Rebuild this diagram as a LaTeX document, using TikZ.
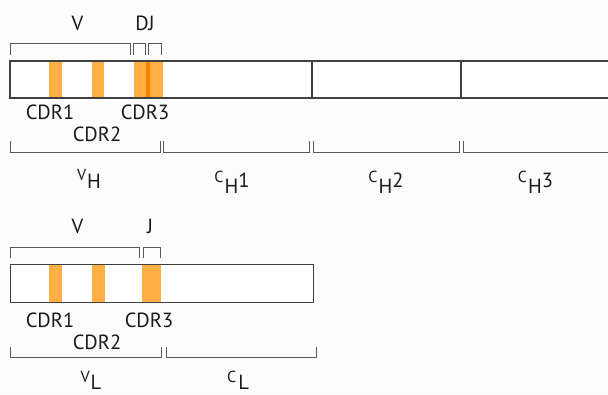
\documentclass[tikz,border=0pt]{standalone}
\usepackage{fontspec}
\setmainfont{PT Sans}
\newcommand{\smallcap}[1]{{\fontsize{16}{18}\selectfont #1}}
\newcommand{\subl}[3]{\raisebox{#1pt}{\smallcap{#2}}\hspace{1pt}\raisebox{-6pt}{#3}}
\begin{document}
\begin{tikzpicture}[x=1pt,y=-1pt,
  boxline/.style={draw=black!75,line width=1.3pt},
  brk/.style={draw=black!65,line width=1pt},
  cdr/.style={fill=orange!70!white!90!yellow,draw=none},
  cdrdark/.style={fill=orange!90!red!90!yellow,draw=none},
  lbl/.style={font=\fontsize{20.5}{22}\selectfont,text=black!90,inner sep=0pt},
  sub/.style={lbl,anchor=base}]
\fill[white!99!black] (0,0) rectangle (608,394);
\useasboundingbox (0,0) rectangle (608,394);
% ---------------- heavy chain ----------------
\fill[white] (10,61) rectangle (608,98);
\fill[cdr] (49,61) rectangle (62,98);
\fill[cdr] (92,61) rectangle (104,98);
\fill[cdr] (134,61) rectangle (163,98);
\fill[cdrdark] (146,61) rectangle (149.5,98);
\coordinate (htl) at (10,61);
\coordinate (hbl) at (10,98);
\coordinate (htr) at (608,61);
\coordinate (hbr) at (608,98);
\draw[boxline] (htr) -- (htl) -- (hbl) -- (hbr);
\draw[boxline] (312,61) -- (312,98);
\draw[boxline] (461,61) -- (461,98);
% top brackets
\draw[brk] (10,55) |- (130.5,43) -- (130.5,55);
\draw[brk] (133.5,55) |- (145,43) -- (145,55);
\draw[brk] (148,55) |- (161,43) -- (161,55);
\node[lbl] (hV) at (77.5,23) {V};
\node[lbl] (hDJ) at (145,23) {DJ};
\node[lbl] (hcdr1) at (50,112.5) {CDR1};
\node[lbl] (hcdr2) at (97,134.5) {CDR2};
\node[lbl] (hcdr3) at (145,112.5) {CDR3};
% bottom brackets
\draw[brk] (10,141) |- (160,152.5) -- (160,141);
\draw[brk] (163.5,141) |- (309,152.5) -- (309,141);
\draw[brk] (313,141) |- (459,152.5) -- (459,141);
\draw[brk] (463,141) |- (608,152.5);
\node[sub] (hVH) at (89,188) {\raisebox{8pt}{\smallcap{V}}\hspace{1pt}H};
\node[sub] (hC1) at (232,187) {\subl{5}{C}{H}1};
\node[sub] (hC2) at (386,187) {\subl{5}{C}{H}2};
\node[sub] (hC3) at (535.5,187) {\subl{5}{C}{H}3};
% ---------------- light chain ----------------
\fill[white] (10,264) rectangle (313,302);
\fill[cdr] (49,264) rectangle (62,302);
\fill[cdr] (92,264) rectangle (105,302);
\fill[cdr] (142,264) rectangle (160.5,302);
\node[boxline,minimum width=303pt,minimum height=38pt,inner sep=0pt,anchor=north west] (lbox) at (10,264) {};
\draw[brk] (10,258) |- (139,247) -- (139,258);
\draw[brk] (143,258) |- (160.5,247) -- (160.5,258);
\node[lbl] (lV) at (77.5,226) {V};
\node[lbl] (lJ) at (150,226) {J};
\node[lbl] (lcdr1) at (50,320) {CDR1};
\node[lbl] (lcdr2) at (97,342) {CDR2};
\node[lbl] (lcdr3) at (149,320) {CDR3};
\draw[brk] (10,347) |- (161,357.5) -- (161,347);
\draw[brk] (166,347) |- (316,357.5) -- (316,347);
\node[sub] (lVL) at (91,389) {\raisebox{7pt}{\smallcap{V}}\hspace{1pt}L};
\node[sub] (lCL) at (238,389) {\raisebox{7pt}{\smallcap{C}}\hspace{2pt}L};
\end{tikzpicture}
\end{document}
